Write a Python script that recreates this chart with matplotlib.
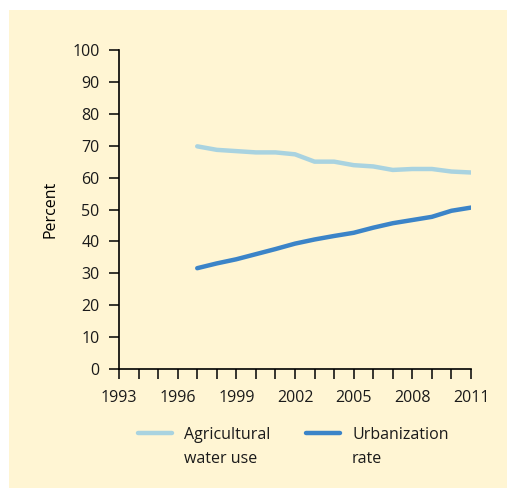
import matplotlib
matplotlib.use("Agg")
import matplotlib.pyplot as plt
from matplotlib.patches import Rectangle
from matplotlib.lines import Line2D

plt.rcParams['font.family'] = ['Open Sans', 'DejaVu Sans']

years = list(range(1997, 2012))
agri = [69.8, 68.7, 68.3, 67.9, 67.9, 67.3, 65.0, 65.0, 63.9, 63.5, 62.4, 62.7, 62.7, 61.9, 61.6]
urban = [31.6, 33.1, 34.4, 36.0, 37.6, 39.3, 40.6, 41.7, 42.7, 44.3, 45.7, 46.7, 47.7, 49.6, 50.6]
xticks = [1993, 1996, 1999, 2002, 2005, 2008, 2011]
yticks = list(range(0, 101, 10))
labels = [["Agricultural", "water use"], ["Urbanization", "rate"]]
c_agri = "#a9d3e0"
c_urban = "#3b84c8"
bg = "#fff5d3"
FS = 11.5

W, H = 507, 488
fig = plt.figure(figsize=(W/100, H/100), dpi=100)
fig.patch.set_facecolor("white")
fig.add_artist(Rectangle((9/W, 0), (W-9)/W, (H-10)/H, transform=fig.transFigure,
                         facecolor=bg, edgecolor="none", zorder=-10))

ax = fig.add_axes([119/W, (H-369)/H, (471-119)/W, (369-50)/H])
ax.set_facecolor("none")
ax.plot(years, agri, color=c_agri, lw=3.2, solid_capstyle="round")
ax.plot(years, urban, color=c_urban, lw=3.2, solid_capstyle="round")
ax.set_xlim(1993, 2011)
ax.set_ylim(0, 100)
ax.set_xticks(xticks)
ax.set_xticks(range(1993, 2012), minor=True)
ax.set_yticks(yticks)
for s in ["top", "right"]:
    ax.spines[s].set_visible(False)
for s in ["left", "bottom"]:
    ax.spines[s].set_linewidth(1.2)
ax.tick_params(axis="both", which="both", direction="out", length=7, width=1.1,
               labelsize=FS, colors="black", labelcolor="#1a1a1a")
ax.tick_params(axis="y", pad=7)
ax.tick_params(axis="x", which="major", pad=8)
ax.set_ylabel("Percent", fontsize=FS, labelpad=10)

# legend (manual, handle aligned with first text line)
for i, (lines, col) in enumerate(zip(labels, [c_agri, c_urban])):
    x0 = [138, 306][i]
    fig.add_artist(Line2D([x0/W, (x0+34)/W], [(H-433)/H]*2, transform=fig.transFigure,
                          color=col, lw=3.2, solid_capstyle="round"))
    for j, txt in enumerate(lines):
        fig.text((x0+46)/W, (H-439-24*j)/H, txt, fontsize=FS, va="baseline", ha="left",
                 color="#1a1a1a", transform=fig.transFigure)

fig.savefig("out.png", dpi=100, facecolor="white")
